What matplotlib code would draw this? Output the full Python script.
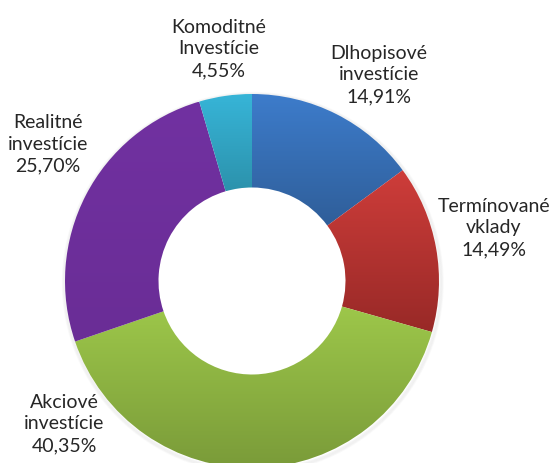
import matplotlib.pyplot as plt
import numpy as np
from matplotlib.colors import LinearSegmentedColormap

# hodnoty grafu
labels = ["Dlhopisové\ninvestície", "Termínované\nvklady", "Akciové\ninvestície",
          "Realitné\ninvestície", "Komoditné\nInvestície"]
values = [14.91, 14.49, 40.35, 25.70, 4.55]
value_texts = ["14,91%", "14,49%", "40,35%", "25,70%", "4,55%"]

# farby (horná / dolná časť gradientu)
top_colors = ["#3d7ccb", "#ce3d3a", "#9dc74a", "#7131a1", "#37b5d8"]
bottom_colors = ["#2f5e99", "#982927", "#7a9b39", "#6a2d96", "#2c92ac"]

# pozície popisov v pixeloch (stred textu)
label_px = [(379, 75), (494, 228), (64, 424), (48, 144), (219, 49)]

W, H = 549, 464
cx, cy, R = 252, 282, 187

fig = plt.figure(figsize=(W / 100, H / 100), dpi=100)
ax = fig.add_axes([0, 0, 1, 1])

wedges, _ = ax.pie(values, startangle=90, counterclock=False, radius=1,
                   colors=top_colors, wedgeprops=dict(width=0.5, linewidth=0))

ax.set_aspect("equal")
ax.axis("off")

# jemný tieň pod prstencom
for k in range(5):
    ax.add_patch(plt.Circle((0.004, -0.01), 1.0 + k * 0.004, fill=False,
                            color="#000000", alpha=0.018, lw=1.5, zorder=0))

# gradient pre každý výsek
for w, c1, c2 in zip(wedges, top_colors, bottom_colors):
    w.set_facecolor("none")
    cmap = LinearSegmentedColormap.from_list("g", [c2, c1])
    ext = w.get_path().get_extents(w.get_patch_transform())
    grad = np.linspace(0, 1, 256).reshape(-1, 1)
    im = ax.imshow(grad, cmap=cmap, origin="lower", aspect="auto",
                   extent=[ext.x0, ext.x1, ext.y0, ext.y1], zorder=1)
    im.set_clip_path(w)

ax.set_xlim(-cx / R, (W - cx) / R)
ax.set_ylim(-(H - cy) / R, cy / R)

for lab, val, (px, py) in zip(labels, value_texts, label_px):
    x = (px - cx) / R
    y = (cy - py) / R
    ax.text(x, y, lab + "\n" + val, ha="center", va="center", fontsize=14,
            family=["Lato", "DejaVu Sans"], color="#262626", linespacing=1.32)

fig.savefig("out.png", dpi=100)
